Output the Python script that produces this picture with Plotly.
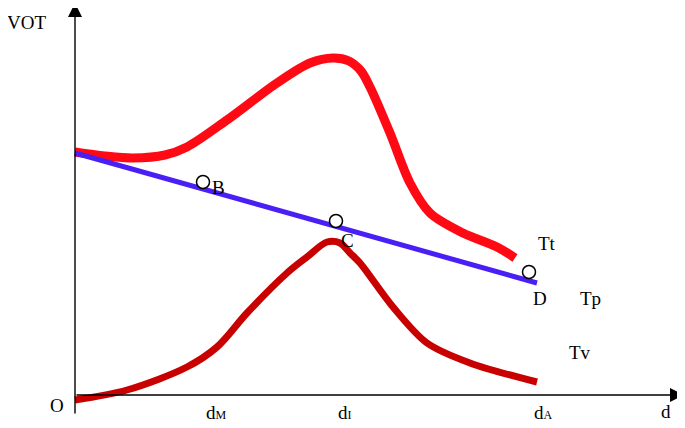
import plotly.graph_objects as go

# curve points (d, VOT), origin at O
tt_d = [0, 30, 58, 90, 112, 152, 202, 235, 258, 274, 286, 295, 315, 335, 355, 388, 422, 440]
tt_v = [243, 239, 237, 240, 248, 275, 312, 332, 337, 334, 324, 308, 262, 212, 182, 162, 148, 137]

tv_d = [0, 52, 112, 142, 172, 212, 232, 252, 265, 275, 285, 318, 352, 395, 462]
tv_v = [-5, 5, 28, 48, 82, 122, 138, 153, 152, 142, 132, 88, 52, 32, 13]

tp_d = [0, 462]
tp_v = [242, 112]

pt_names = ["B", "C", "D"]
pt_d = [128, 261, 454]
pt_v = [213, 174, 123]

SERIF = "Liberation Serif, Times New Roman, serif"

fig = go.Figure()
fig.add_trace(go.Scatter(x=tt_d, y=tt_v, mode="lines",
                         line=dict(color="#ff0a14", width=9, shape="spline", smoothing=0.9)))
fig.add_trace(go.Scatter(x=tv_d, y=tv_v, mode="lines",
                         line=dict(color="#c80000", width=7, shape="spline", smoothing=0.9)))
fig.add_trace(go.Scatter(x=tp_d, y=tp_v, mode="lines",
                         line=dict(color="#4a1ff5", width=5)))
fig.add_trace(go.Scatter(x=pt_d, y=pt_v, mode="markers",
                         marker=dict(symbol="circle", size=13, color="white",
                                     line=dict(color="black", width=1.5))))

# axes with arrows
fig.add_annotation(x=0, y=392, ax=0, ay=-20, xref="x", yref="y", axref="x", ayref="y",
                   showarrow=True, arrowhead=2, arrowsize=2.0, arrowwidth=1.4,
                   arrowcolor="black", text="")
fig.add_annotation(x=609, y=0, ax=0, ay=0, xref="x", yref="y", axref="x", ayref="y",
                   showarrow=True, arrowhead=2, arrowsize=2.0, arrowwidth=1.4,
                   arrowcolor="black", text="")

small = "<span style='font-size:12px'>%s</span>"
labels = [
    ("VOT", -49, 373),
    ("O", -18, -10),
    ("d" + small % "M", 141, -17),
    ("d" + small % "I", 270, -17),
    ("d" + small % "A", 468, -17),
    ("d", 591, -16),
    ("Tt", 472, 152),
    ("D", 465, 97),
    ("Tp", 515, 97),
    ("Tv", 505, 43),
    ("B", 143, 208),
    ("C", 272, 155),
]
for txt, x, y in labels:
    fig.add_annotation(x=x, y=y, text=txt, showarrow=False,
                       font=dict(family=SERIF, size=19, color="black"))

# page body has an 8px margin, so the figure is shrunk to fit the window
fig.update_layout(
    width=677, height=420,
    margin=dict(l=0, r=0, t=0, b=0),
    paper_bgcolor="white", plot_bgcolor="white",
    showlegend=False,
    xaxis=dict(range=[-67, 610], visible=False),
    yaxis=dict(range=[-33, 387], visible=False),
)
fig.write_html("out.html")
